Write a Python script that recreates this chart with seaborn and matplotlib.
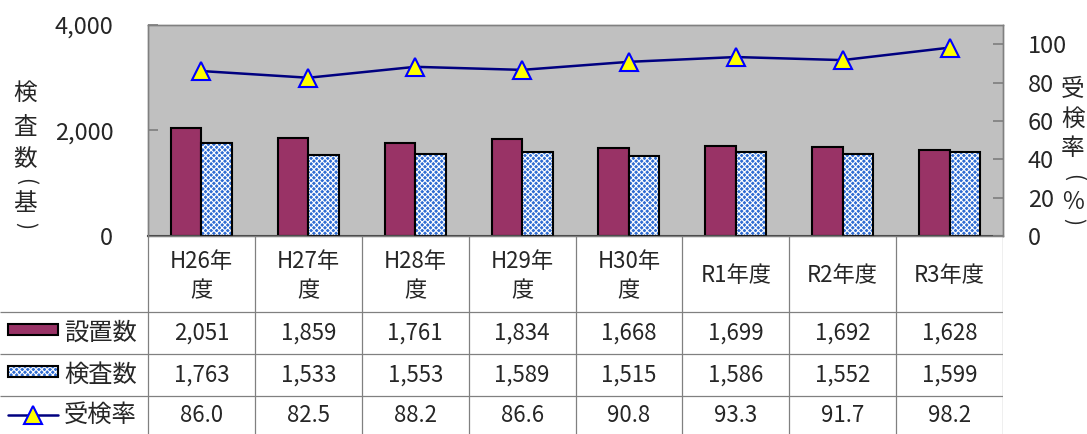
import numpy as np
import pandas as pd
import matplotlib
matplotlib.use('Agg')
import matplotlib.pyplot as plt
import seaborn as sns
from matplotlib.patches import Rectangle
from matplotlib.lines import Line2D

# データ
nendo = ['H26年度', 'H27年度', 'H28年度', 'H29年度', 'H30年度', 'R1年度', 'R2年度', 'R3年度']
nendo_label = ['H26年\n度', 'H27年\n度', 'H28年\n度', 'H29年\n度', 'H30年\n度', 'R1年度', 'R2年度', 'R3年度']
setti = [2051, 1859, 1761, 1834, 1668, 1699, 1692, 1628]
kensa = [1763, 1533, 1553, 1589, 1515, 1586, 1552, 1599]
jukenritsu = [86.0, 82.5, 88.2, 86.6, 90.8, 93.3, 91.7, 98.2]
series = ['設置数', '検査数', '受検率']
ticks_izq = [0, 2000, 4000]
ticks_der = [0, 20, 40, 60, 80, 100]

maroon = '#993366'
azul = '#2f6cd2'
gris = '#c0c0c0'
linea = '#808080'

sns.set_theme(style='white')
plt.rcParams['font.family'] = ['Noto Sans CJK JP', 'DejaVu Sans']
plt.rcParams['hatch.linewidth'] = 0.8

W, H = 1087, 434
fig = plt.figure(figsize=(W / 100, H / 100), dpi=100)
x0, x1, y0, y1 = 148, 1003, 25, 236  # area del grafico en px
ax = fig.add_axes([x0 / W, 1 - y1 / H, (x1 - x0) / W, (y1 - y0) / H])
ax.set_facecolor(gris)

df = pd.DataFrame({'年度': nendo * 2,
                   '区分': [series[0]] * len(nendo) + [series[1]] * len(nendo),
                   '値': setti + kensa})
sns.barplot(data=df, x='年度', y='値', hue='区分', palette=[maroon, azul],
            width=0.57, edgecolor='black', linewidth=1.5, saturation=1,
            legend=False, ax=ax)

# patron de puntos para 検査数
for p in ax.containers[1]:
    p.set_hatch('xxxxxx')
    p.set_edgecolor('white')
    p.set_linewidth(0)
    ax.add_patch(Rectangle(p.get_xy(), p.get_width(), p.get_height(),
                           fill=False, edgecolor='black', lw=1.5, zorder=3))

ax2 = ax.twinx()
sns.lineplot(x=np.arange(len(nendo)), y=jukenritsu, ax=ax2, color='#000080',
             linewidth=1.8, marker='^', markersize=13, markerfacecolor='#ffff00',
             markeredgecolor='#0000ff', markeredgewidth=1.5)

ax.set_xlim(-0.5, len(nendo) - 0.5)
ax.set_ylim(0, 4000)
ax.set_yticks(ticks_izq)
ax.set_yticklabels([f'{v:,}' for v in ticks_izq])
ax.tick_params(axis='y', direction='in', length=7, color=linea, pad=25, labelsize=17)
ax.tick_params(axis='x', bottom=False, labelbottom=False)
ax.set_xlabel('')
ax.set_ylabel('')
ax2.set_ylim(0, 110)
ax2.set_yticks(ticks_der)
ax2.tick_params(axis='y', direction='in', length=7, color=linea, pad=18, labelsize=17)
ax2.set_ylabel('')
for a in (ax, ax2):
    for s in a.spines.values():
        s.set_color(linea)
        s.set_linewidth(1)
ax.spines['bottom'].set_color('#404040')
ax.spines['bottom'].set_linewidth(1.5)

# tabla de datos
tab = fig.add_axes([0, 0, x1 / W, (H - y1) / H])
u = (x1 - x0) / len(nendo)
xmin = -0.5 - x0 / u
tab.set_xlim(xmin, len(nendo) - 0.5)
tab.set_ylim(H, y1)
tab.axis('off')
px = lambda v: xmin + v / u

filas = [312, 354, 396]
tab.vlines(np.arange(len(nendo) + 1) - 0.5, y1, H, color=linea, lw=0.9)
tab.hlines(filas, xmin, len(nendo) - 0.5, color=linea, lw=0.9)

for i, lab in enumerate(nendo_label):
    tab.text(i, 276, lab, ha='center', va='center', fontsize=16, linespacing=1.35)
    tab.text(i, 333, f'{setti[i]:,}', ha='center', va='center', fontsize=16)
    tab.text(i, 375, f'{kensa[i]:,}', ha='center', va='center', fontsize=16)
    tab.text(i, 415, f'{jukenritsu[i]:.1f}', ha='center', va='center', fontsize=16)

# leyenda dentro de la tabla
tab.add_patch(Rectangle((px(8), 324), px(58) - px(8), 11, facecolor=maroon,
                        edgecolor='black', lw=1.5))
tab.add_patch(Rectangle((px(8), 366), px(58) - px(8), 11, facecolor=azul,
                        edgecolor='white', lw=0, hatch='xxxxxx'))
tab.add_patch(Rectangle((px(8), 366), px(58) - px(8), 11, fill=False,
                        edgecolor='black', lw=1.5))
tab.add_line(Line2D([px(8), px(58)], [415, 415], color='#000080', lw=1.8))
tab.add_line(Line2D([px(33)], [415], marker='^', markersize=13, color='#000080',
                    markerfacecolor='#ffff00', markeredgecolor='#0000ff',
                    markeredgewidth=1.5))
for y, s in zip([333, 375, 415], series):
    tab.text(px(64), y, s, ha='left', va='center', fontsize=17.5)

# titulos de ejes verticales (escritura vertical)
def vtexto(x, ys, chars):
    for y, c in zip(ys, chars):
        if c in '()':
            fig.text(x / W, 1 - y / H, c, ha='center', va='center', fontsize=15,
                     rotation=-90, rotation_mode='anchor')
        else:
            fig.text(x / W, 1 - y / H, c, ha='center', va='center', fontsize=17)

vtexto(25, [93, 127, 160, 181, 204, 226], '検査数(基)')
vtexto(1073, [90, 119, 148, 178, 202, 222], '受検率(％)')

fig.savefig('out.png', dpi=100)
